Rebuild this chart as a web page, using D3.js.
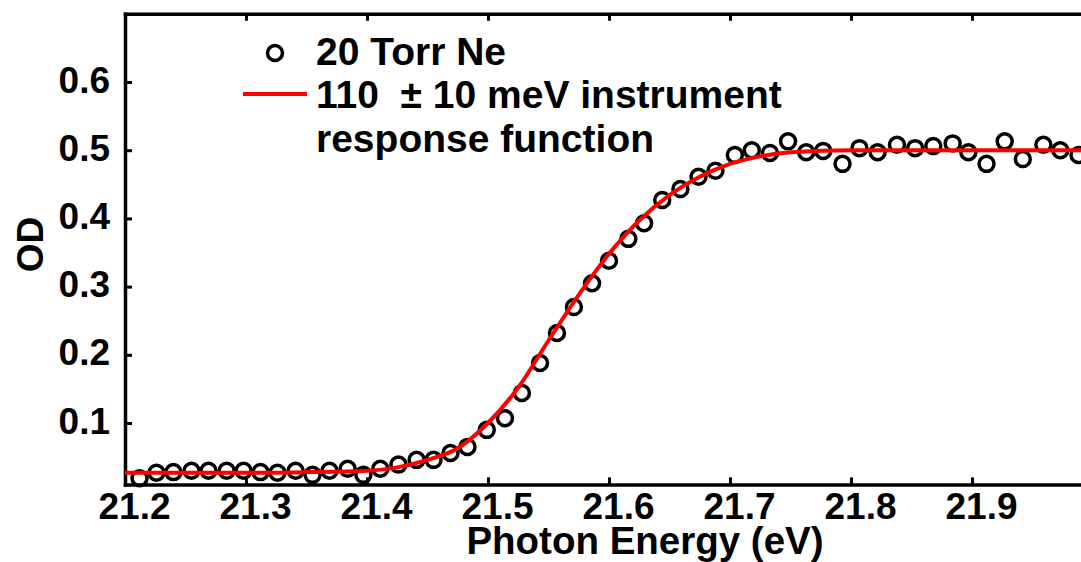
<!DOCTYPE html>
<html>
<head>
<meta charset="utf-8">
<script src="https://cdn.jsdelivr.net/npm/d3@7"></script>
<style>
  html, body { margin: 0; padding: 0; background: #fff; }
  svg { display: block; font-family: 'Liberation Sans', Arial, Helvetica, sans-serif; font-weight: bold; }
</style>
</head>
<body>
<svg id="chart"></svg>
<script>
// measured points (20 Torr Ne)
const energies = [
  21.212, 21.226, 21.240, 21.255, 21.269, 21.284, 21.298, 21.312, 21.326, 21.341,
  21.355, 21.369, 21.384, 21.397, 21.411, 21.426, 21.441, 21.455, 21.469, 21.483,
  21.499, 21.514, 21.528, 21.543, 21.557, 21.571, 21.586, 21.600, 21.616, 21.629,
  21.644, 21.659, 21.674, 21.688, 21.704, 21.718, 21.733, 21.748, 21.763, 21.777,
  21.793, 21.807, 21.822, 21.838, 21.853, 21.868, 21.884, 21.897, 21.912, 21.927,
  21.942, 21.959, 21.973, 21.988
];
const odValues = [
  0.019, 0.027, 0.028, 0.030, 0.030, 0.030, 0.030, 0.028, 0.027, 0.030,
  0.024, 0.030, 0.033, 0.024, 0.033, 0.039, 0.046, 0.046, 0.056, 0.065,
  0.090, 0.107, 0.144, 0.188, 0.232, 0.270, 0.305, 0.338, 0.370, 0.393,
  0.427, 0.443, 0.461, 0.470, 0.493, 0.500, 0.496, 0.513, 0.497, 0.499,
  0.480, 0.503, 0.497, 0.508, 0.503, 0.506, 0.510, 0.497, 0.480, 0.513,
  0.487, 0.508, 0.500, 0.493
];

// instrument response fit
const fitEnergies = [21.20, 21.25, 21.30, 21.35, 21.40, 21.425, 21.45, 21.475, 21.50, 21.525,
  21.55, 21.575, 21.60, 21.625, 21.65, 21.675, 21.70, 21.725, 21.75, 21.80, 21.90, 22.00];
const fitValues = [0.027, 0.027, 0.027, 0.028, 0.030, 0.035, 0.046, 0.063, 0.100, 0.152,
  0.221, 0.288, 0.348, 0.397, 0.434, 0.461, 0.480, 0.491, 0.497, 0.500, 0.500, 0.500];

const xTicks = [21.2, 21.3, 21.4, 21.5, 21.6, 21.7, 21.8, 21.9];
const yTicks = [0.1, 0.2, 0.3, 0.4, 0.5, 0.6];
const legendLabels = ['20 Torr Ne', '110  \u00b1 10 meV instrument', 'response function'];

const width = 1081, height = 562;
const fontSize = 37;

const svg = d3.select('#chart').attr('width', width).attr('height', height);

// plot box runs a bit past the right edge of the picture
const x = d3.scaleLinear().domain([21.2, 22.0]).range([125, 1093]);
const y = d3.scaleLinear().domain([0.01, 0.7]).range([484.4, 13.8]);

function styleAxis(g) {
  g.select('.domain').attr('stroke', '#000').attr('stroke-width', 3.5).attr('stroke-linecap', 'square');
  g.selectAll('.tick line').attr('stroke', '#000').attr('stroke-width', 3);
  g.selectAll('.tick text').attr('fill', '#000').attr('font-size', fontSize).attr('font-weight', 'bold')
    .attr('font-family', "'Liberation Sans', Arial, sans-serif");
}

// bottom axis
const xAxis = svg.append('g').attr('transform', `translate(0,${y(0.01)})`)
  .call(d3.axisBottom(x).tickValues(xTicks).tickFormat(d3.format('.1f')).tickSize(-7).tickSizeOuter(0));
styleAxis(xAxis);
xAxis.selectAll('.tick text').attr('y', 35).attr('dy', null).attr('x', 9);

// top axis (ticks only)
const topAxis = svg.append('g').attr('transform', `translate(0,${y(0.7)})`)
  .call(d3.axisTop(x).tickValues(xTicks).tickFormat('').tickSize(-7).tickSizeOuter(0));
styleAxis(topAxis);

// left axis
const yAxis = svg.append('g').attr('transform', `translate(${x(21.2)},0)`)
  .call(d3.axisLeft(y).tickValues(yTicks).tickFormat(d3.format('.1f')).tickSize(-7).tickSizeOuter(0));
styleAxis(yAxis);
yAxis.selectAll('.tick text').attr('x', -15).attr('dy', 10);

// right axis
const rightAxis = svg.append('g').attr('transform', `translate(${x(22.0)},0)`)
  .call(d3.axisRight(y).tickValues(yTicks).tickFormat('').tickSize(-7).tickSizeOuter(0));
styleAxis(rightAxis);

// data circles
const pts = energies.map((e, i) => ({ e, od: odValues[i] }));
svg.append('g').selectAll('circle').data(pts).join('circle')
  .attr('cx', d => x(d.e))
  .attr('cy', d => y(d.od))
  .attr('r', 7.5)
  .attr('fill', 'none')
  .attr('stroke', '#000')
  .attr('stroke-width', 3.5);

// fit curve
const fit = fitEnergies.map((e, i) => ({ e, od: fitValues[i] }));
svg.append('path').datum(fit)
  .attr('fill', 'none')
  .attr('stroke', '#ff0000')
  .attr('stroke-width', 4)
  .attr('d', d3.line().x(d => x(d.e)).y(d => y(d.od)).curve(d3.curveMonotoneX));

// legend
const legend = svg.append('g').attr('font-size', 39).attr('fill', '#000');
legend.append('circle').attr('cx', 275).attr('cy', 53).attr('r', 7.5)
  .attr('fill', 'none').attr('stroke', '#000').attr('stroke-width', 3.5);
legend.append('line').attr('x1', 243).attr('x2', 307).attr('y1', 94).attr('y2', 94)
  .attr('stroke', '#ff0000').attr('stroke-width', 4);
const baselines = [65, 108, 152];
legendLabels.forEach((t, i) => {
  legend.append('text').attr('x', 316).attr('y', baselines[i])
    .style('white-space', 'pre').text(t);
});

// axis titles
svg.append('text').attr('x', 645).attr('y', 554).attr('text-anchor', 'middle')
  .attr('font-size', 38.5).text('Photon Energy (eV)');
svg.append('text').attr('transform', 'translate(43,244.5) rotate(-90)').attr('text-anchor', 'middle')
  .attr('font-size', fontSize).text('OD');
</script>
</body>
</html>
